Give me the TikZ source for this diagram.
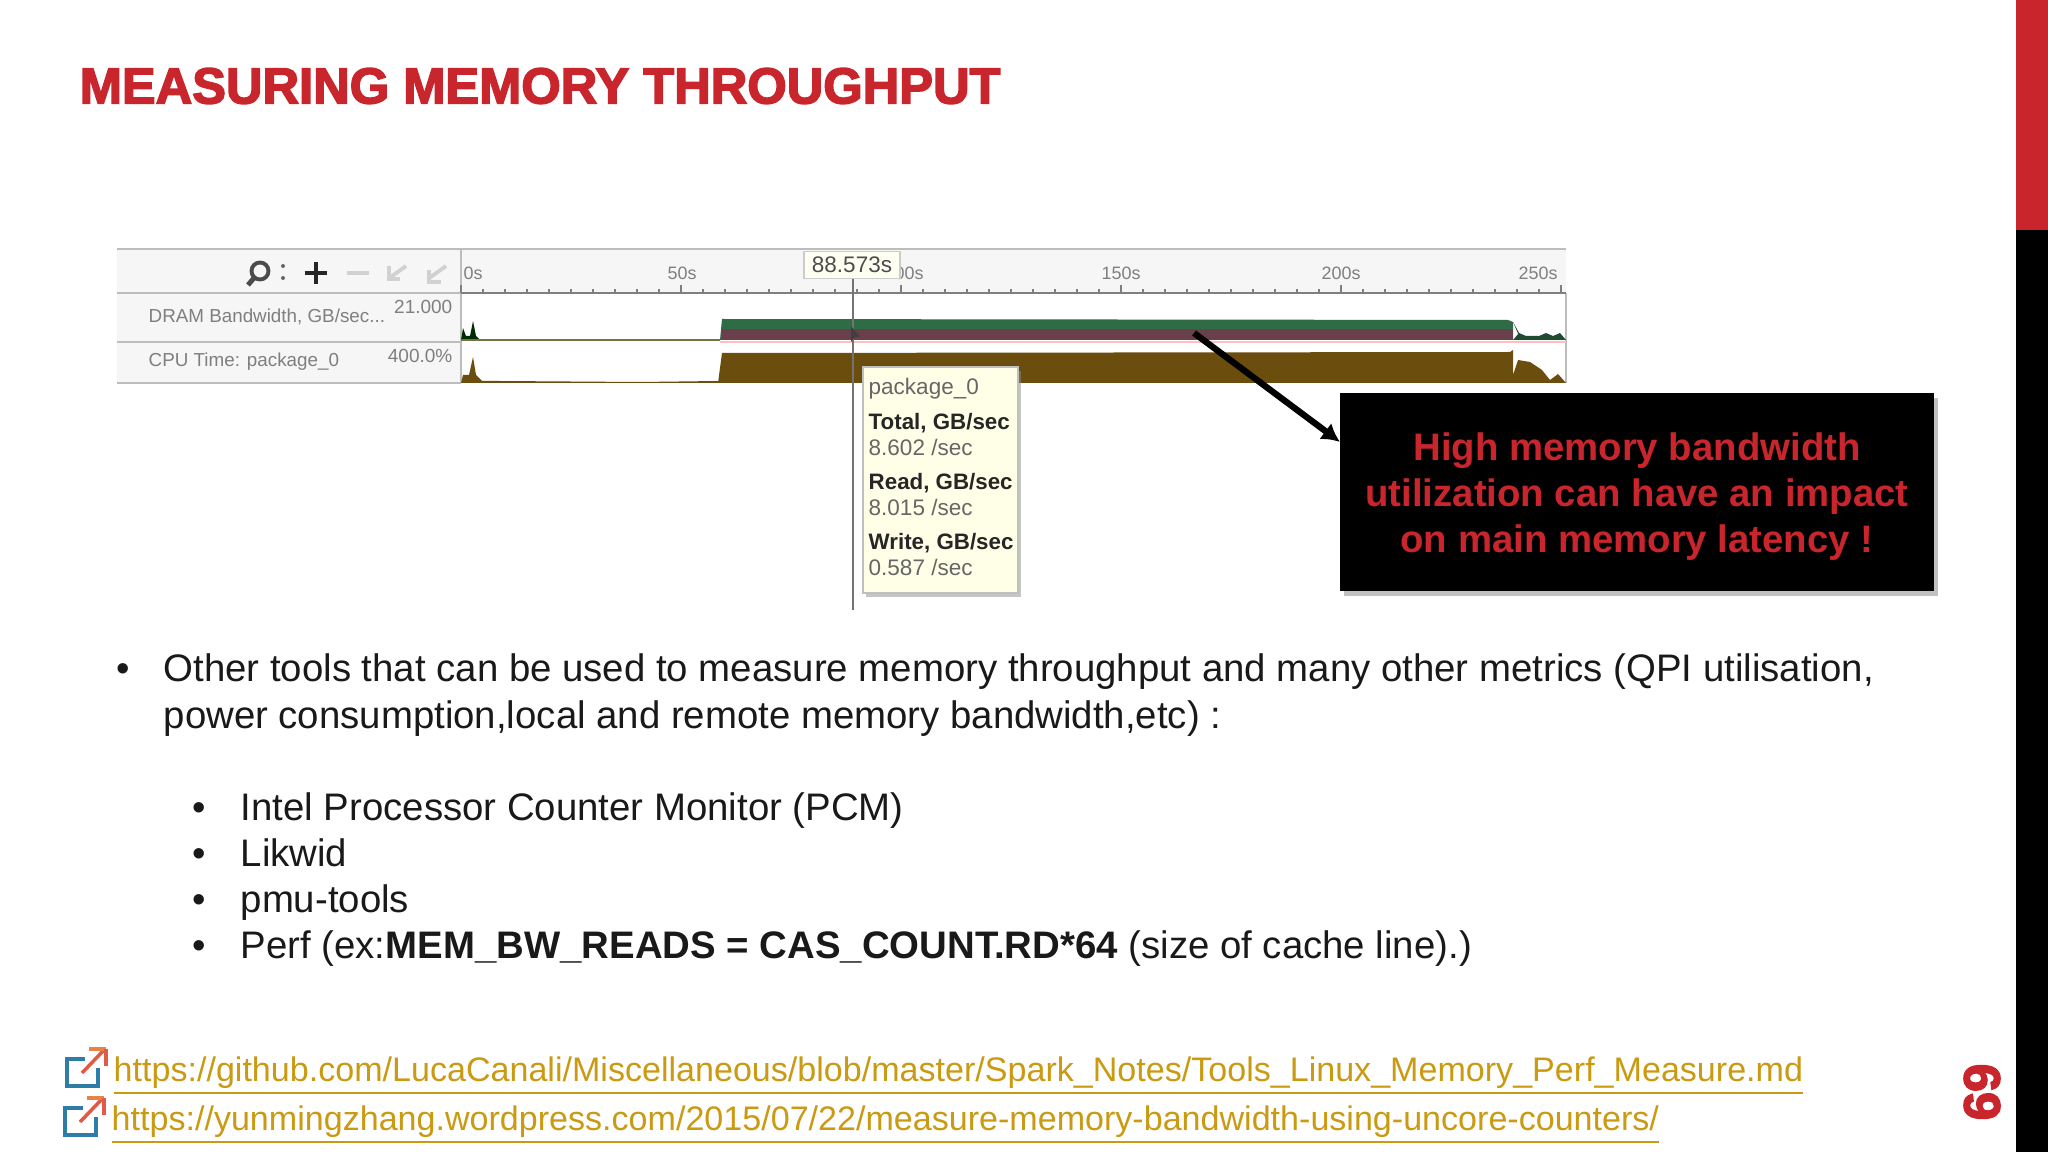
\documentclass[tikz,border=0pt]{standalone}
\usepackage{xcolor}
\usepackage{fontspec}
\setmainfont{Liberation Sans}
\newfontfamily\titlefont[FakeBold=3]{Liberation Sans Bold}
\usepackage{tikz}
\usetikzlibrary{arrows.meta}
\usetikzlibrary{positioning, shadows}
\definecolor{slide red}{HTML}{C9252C}
\definecolor{link gold}{HTML}{C99A12}
\definecolor{panel grey}{HTML}{F6F6F6}
\definecolor{label grey}{HTML}{7F7F7F}
\definecolor{rule grey}{HTML}{BDBDBD}
\definecolor{tip yellow}{HTML}{FFFFE8}
\definecolor{cpu brown}{HTML}{6B4E0E}
\definecolor{dram green}{HTML}{2F6B45}
\definecolor{dram purple}{HTML}{6A3F4C}
\definecolor{icon blue}{HTML}{2E7DA6}
\definecolor{icon red}{HTML}{E05A46}
\definecolor{icon orange}{HTML}{E88246}
\tikzset{
body text/.style = { anchor = base west, inner sep = 0pt, font = \fontsize{10.91pt}{12pt}\selectfont, text = black!90 },
bullet mark/.style = { anchor = base, inner sep = 0pt, font = \fontsize{10.91pt}{12pt}\selectfont, text = black!90 },
link text/.style = { anchor = base west, inner sep = 0pt, font = \fontsize{9.69pt}{12pt}\selectfont, text = link gold },
track label/.style = { anchor = west, inner sep = 0pt, font = \fontsize{5.35pt}{6pt}\selectfont, text = label grey },
track max/.style = { anchor = east, inner sep = 0pt, font = \fontsize{5.4pt}{6pt}\selectfont, text = label grey },
axis label/.style = { anchor = west, inner sep = 0pt, font = \fontsize{5.1pt}{6pt}\selectfont, text = label grey },
tip plain/.style = { anchor = west, inner sep = 0pt, font = \fontsize{6.4pt}{7pt}\selectfont, text = black!60 },
tip bold/.style = { anchor = west, inner sep = 0pt, font = \fontsize{6.35pt}{7pt}\selectfont\bfseries, text = black!85 },
tool icon/.style = { draw = black!70, line width = 1.1pt },
faint icon/.style = { draw = black!18, line width = 1.1pt },
callout box/.style = { rectangle, fill = black, inner sep = 0pt, minimum width = 5.94cm, minimum height = 1.98cm, drop shadow = {shadow xshift = 0.04cm, shadow yshift = -0.05cm, fill = black!35, opacity = 0.7} },
callout text/.style = { text = slide red, align = center, inner sep = 0pt, font = \fontsize{10.9pt}{13.1pt}\selectfont\bfseries },
}
\tikzset{
pics/link icon/.style = {
        code = {
        \draw[draw = icon blue, line width = 1pt] (20, -11) -- (2, -11) -- (2, 16) -- (33, 16) -- (33, -2);
        \draw[draw = icon red, line width = 1pt] (17, 3) -- (40, -21);
        \draw[draw = icon orange, line width = 1pt] (24, -21) -- (41, -21);
        \draw[draw = icon red, line width = 1pt] (41, -21) -- (41, -4);
        }
    }
}
\begin{document}
\begin{tikzpicture}[x = 0.01cm, y = -0.01cm]
    \useasboundingbox (0, 0) rectangle (2048, 1152);
    % side bar
    \fill[black] (2016, 230) rectangle (2048, 1152);
    \fill[slide red] (2016, 0) rectangle (2048, 230);
    \node[anchor = west, inner sep = 0pt, text = slide red] (title) at (79, 86) {\titlefont\fontsize{14.4pt}{16pt}\selectfont MEASURING MEMORY THROUGHPUT};
    \node[rotate = -90, inner sep = 0pt, text = slide red] (page number) at (1982, 1092) {\titlefont\fontsize{14.5pt}{16pt}\selectfont 69};
    % profiler panel
    \fill[panel grey] (117, 249) rectangle (1566, 293);
    \fill[panel grey] (117, 293) rectangle (461, 383);
    \draw[rule grey, line width = 0.5pt] (117, 249) -- (1566, 249);
    \draw[rule grey, line width = 0.5pt] (117, 293) -- (461, 293);
    \draw[rule grey, line width = 0.5pt] (117, 342) -- (461, 342);
    \draw[rule grey, line width = 0.5pt] (117, 383) -- (461, 383);
    \draw[rule grey, line width = 0.4pt] (461, 249) -- (461, 383);
    \draw[rule grey, line width = 0.4pt] (1566, 293) -- (1566, 383);
    \node[track label] (dram label) at (148, 317) {DRAM Bandwidth, GB/sec...};
    \node[track label] (cpu label) at (148, 362) {CPU Time: package\_0};
    \node[track max] (dram max) at (453, 307) {21.000};
    \node[track max] (cpu max) at (453, 356) {400.0\%};
    % toolbar
    \draw[tool icon] (260, 271) circle (8.5);
    \draw[tool icon, line width = 1.4pt] (254, 278) -- (248, 285);
    \fill[black!60] (283, 266) circle (2);
    \fill[black!60] (283, 278) circle (2);
    \draw[tool icon, draw = black!85, line width = 1.2pt] (305, 273) -- (327, 273);
    \draw[tool icon, draw = black!85, line width = 1.2pt] (316, 262) -- (316, 284);
    \draw[faint icon] (347, 273) -- (369, 273);
    \draw[faint icon] (388, 279) -- (406, 266);
    \draw[faint icon] (389, 266) -- (389, 279) -- (400, 279);
    \draw[faint icon] (428, 279) -- (446, 266);
    \draw[faint icon] (429, 270) -- (429, 282) -- (441, 282);
    % time axis
    \draw[label grey, line width = 0.5pt] (461, 293) -- (1566, 293);
    \draw[label grey, line width = 0.3pt, shift = {(461, 0)}, xstep = 22, ystep = 100] (0, 289) grid (1100, 293);
    \draw[label grey, line width = 0.4pt, shift = {(461, 0)}, xstep = 220, ystep = 100] (0, 285) grid (1100, 293);
    \node[axis label] (tick 0) at (463, 273) {0s};
    \node[axis label] (tick 50) at (667, 273) {50s};
    \node[axis label] (tick 100) at (884, 273) {100s};
    \node[axis label] (tick 150) at (1101, 273) {150s};
    \node[axis label] (tick 200) at (1321, 273) {200s};
    \node[axis label] (tick 250) at (1518, 273) {250s};
    % bandwidth track
    \fill[black!65!green!50!black] (461, 340) -- (463, 328) -- (466, 336) -- (470, 336) -- (473, 321) -- (476, 336) -- (480, 340) -- cycle;
    \draw[black!45!yellow!70!black, line width = 0.5pt] (461, 340) -- (720, 340);
    \fill[dram green] (720, 340) -- (722, 319) -- (1508, 320) -- (1513, 322) -- (1513, 340) -- cycle;
    \fill[dram purple] (722, 329) rectangle (1513, 340);
    \fill[dram green!70!black] (1513, 322) -- (1519, 336) -- (1523, 340) -- cycle;
    \fill[dram green!70!black] (1513, 340) -- (1519, 333) -- (1526, 336) -- (1539, 336) -- (1546, 333) -- (1553, 336) -- (1560, 333) -- (1566, 340) -- cycle;
    \draw[red!25, line width = 0.5pt] (720, 342) -- (1566, 342);
    % cpu track
    \fill[cpu brown] (461, 383) -- (463, 375) -- (469, 375) -- (473, 357) -- (476, 375) -- (482, 381) -- (500, 381) -- (640, 382) -- (718, 381) -- (720, 383) -- cycle;
    \fill[cpu brown] (718, 383) -- (722, 353) -- (1510, 352) -- (1513, 350) -- (1513, 375) -- (1518, 360) -- (1530, 362) -- (1542, 370) -- (1550, 380) -- (1558, 374) -- (1566, 383) -- cycle;
    \fill[cpu brown] (1506, 352) rectangle (1513, 383);
    % cursor
    \draw[black!55, line width = 0.5pt] (853, 279) -- (853, 610);
    \fill[black!75] (851, 326) -- (851, 342) -- (855, 337) -- (860, 337) -- cycle;
    \node[draw = black!20, fill = tip yellow!60!white, inner sep = 0pt, minimum width = 0.96cm, minimum height = 0.27cm, font = \fontsize{6.4pt}{7pt}\selectfont, text = black!70] (cursor label) at (852, 265) {88.573s};
    % tooltip
    \fill[tip yellow, draw = black!25, line width = 0.4pt, drop shadow = {shadow xshift = 0.03cm, shadow yshift = -0.04cm, fill = black!45}] (863, 367) rectangle (1018, 593);
    \node[tip plain] (tip name) at (868, 389) {package\_0};
    \node[tip bold] (tip total) at (868, 423) {Total, GB/sec};
    \node[tip plain] (tip total value) at (868, 447) {8.602 /sec};
    \node[tip bold] (tip read) at (868, 483) {Read, GB/sec};
    \node[tip plain] (tip read value) at (868, 507) {8.015 /sec};
    \node[tip bold] (tip write) at (868, 543) {Write, GB/sec};
    \node[tip plain] (tip write value) at (868, 567) {0.587 /sec};
    % callout
    \node[callout box] (impact note) at (1637, 492) {};
    \node[callout text] (impact text) at (1637, 497) {High memory bandwidth\\utilization can have an impact\\on main memory latency !};
    \coordinate (busy band) at (1194, 333);
    \coordinate (note edge) at (1340, 442);
    \draw[-{Latex[length = 0.18cm, width = 0.2cm]}, black, line width = 1.8pt] (busy band) -- (note edge);
    % bullets
    \node[bullet mark] (dot a) at (123, 682) {•};
    \node[body text] (other tools) at (163, 682) {Other tools that can be used to measure memory throughput and many other metrics (QPI utilisation,};
    \node[body text] (other tools two) at (163, 728) {power consumption,local and remote memory bandwidth,etc) :};
    \node[bullet mark] (dot b) at (199, 820) {•};
    \node[body text] (pcm) at (240, 820) {Intel Processor Counter Monitor (PCM)};
    \node[bullet mark] (dot c) at (199, 866) {•};
    \node[body text] (likwid) at (240, 866) {Likwid};
    \node[bullet mark] (dot d) at (199, 912) {•};
    \node[body text] (pmu tools) at (240, 912) {pmu-tools};
    \node[bullet mark] (dot e) at (199, 958) {•};
    \node[body text] (perf) at (240, 958) {Perf (ex:\textbf{MEM\_BW\_READS = CAS\_COUNT.RD*64} (size of cache line).)};
    % links
    \draw (65, 1070) pic{link icon};
    \draw (63, 1119) pic{link icon};
    \node[link text] (canali link) at (113, 1081) {\underline{https://github.com/LucaCanali/Miscellaneous/blob/master/Spark\_Notes/Tools\_Linux\_Memory\_Perf\_Measure.md}};
    \node[link text] (zhang link) at (111, 1130) {\underline{https://yunmingzhang.wordpress.com/2015/07/22/measure-memory-bandwidth-using-uncore-counters/}};
\end{tikzpicture}
\end{document}
